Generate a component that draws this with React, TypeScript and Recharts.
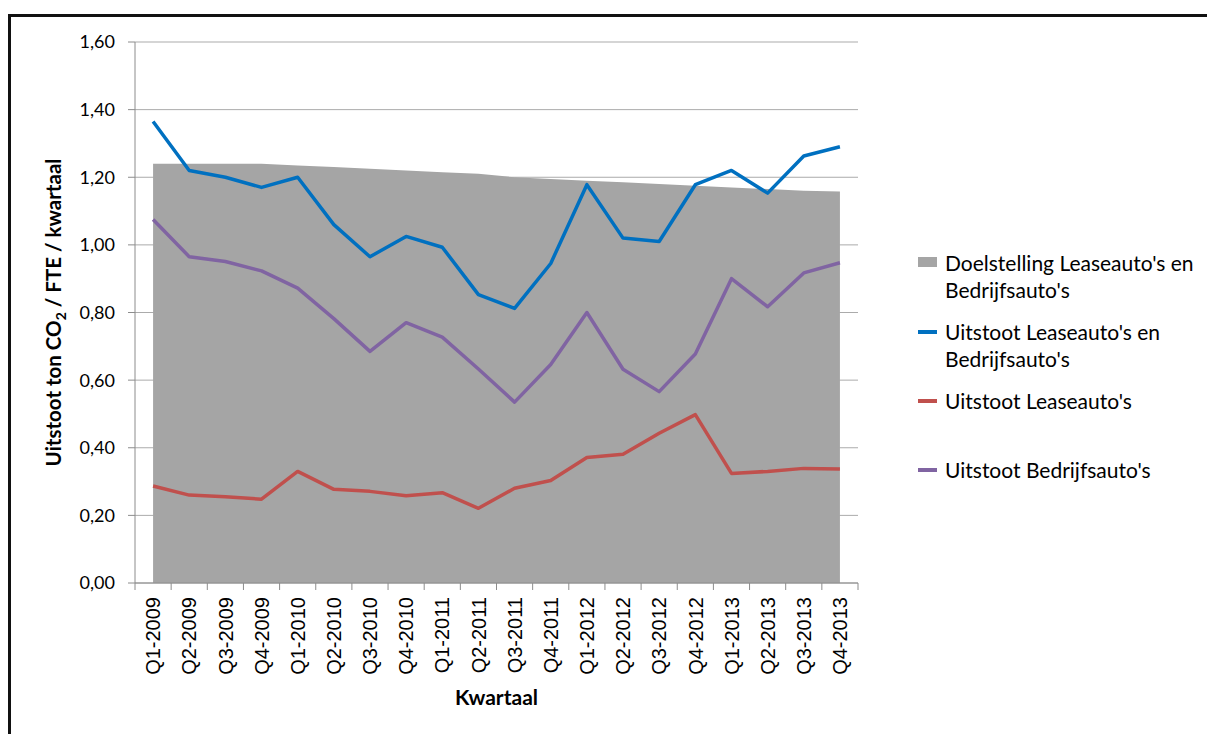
import { ComposedChart, Area, Line, XAxis, YAxis, CartesianGrid } from "recharts";

const kwartalen = [
  "Q1-2009", "Q2-2009", "Q3-2009", "Q4-2009",
  "Q1-2010", "Q2-2010", "Q3-2010", "Q4-2010",
  "Q1-2011", "Q2-2011", "Q3-2011", "Q4-2011",
  "Q1-2012", "Q2-2012", "Q3-2012", "Q4-2012",
  "Q1-2013", "Q2-2013", "Q3-2013", "Q4-2013",
];

// doelstelling lease- en bedrijfsauto's
const doelstelling = [
  1.24, 1.24, 1.24, 1.24, 1.235, 1.23, 1.225, 1.22, 1.215, 1.21,
  1.2, 1.195, 1.19, 1.185, 1.18, 1.175, 1.17, 1.165, 1.16, 1.158,
];

const uitstootTotaal = [
  1.365, 1.22, 1.2, 1.17, 1.2, 1.06, 0.965, 1.025, 0.993, 0.853,
  0.812, 0.945, 1.178, 1.02, 1.01, 1.178, 1.22, 1.153, 1.263, 1.29,
];

const uitstootLease = [
  0.287, 0.26, 0.255, 0.248, 0.33, 0.277, 0.271, 0.258, 0.267, 0.221,
  0.28, 0.303, 0.371, 0.381, 0.443, 0.498, 0.324, 0.33, 0.339, 0.337,
];

const uitstootBedrijf = [
  1.075, 0.965, 0.951, 0.923, 0.872, 0.782, 0.685, 0.77, 0.727, 0.633,
  0.535, 0.646, 0.8, 0.632, 0.566, 0.677, 0.9, 0.817, 0.917, 0.947,
];

const yTicks = [0, 0.2, 0.4, 0.6, 0.8, 1.0, 1.2, 1.4, 1.6];

const legendItems = [
  { lines: ["Doelstelling Leaseauto's en", "Bedrijfsauto's"], color: "#A5A5A5", type: "rect" },
  { lines: ["Uitstoot Leaseauto's en", "Bedrijfsauto's"], color: "#0070C0", type: "line" },
  { lines: ["Uitstoot Leaseauto's"], color: "#C0504D", type: "line" },
  { lines: ["Uitstoot Bedrijfsauto's"], color: "#8064A2", type: "line" },
];

const data = kwartalen.map((k, i) => ({
  kwartaal: k,
  doel: doelstelling[i],
  totaal: uitstootTotaal[i],
  lease: uitstootLease[i],
  bedrijf: uitstootBedrijf[i],
}));

const FONT = "Lato, 'Open Sans', sans-serif";
const AXIS = "#8C8C8C";
const GRID = "#ABABAB";
const HALF_STEP = 723 / kwartalen.length / 2;

function fmt(v: number) {
  return v.toFixed(2).replace(".", ",");
}

function KwartaalTick({ x, y, payload, index }: any) {
  const last = index === kwartalen.length - 1;
  return (
    <g>
      <line x1={x - HALF_STEP} x2={x - HALF_STEP} y1={y} y2={y + 7} stroke={AXIS} />
      {last && <line x1={x + HALF_STEP} x2={x + HALF_STEP} y1={y} y2={y + 7} stroke={AXIS} />}
      <text
        transform={`translate(${x},${y + 14}) rotate(-90)`}
        textAnchor="end"
        dy="0.36em"
        style={{ fontFamily: "Liberation Sans", fontSize: 20, fill: "#000" }}
      >
        {payload.value}
      </text>
    </g>
  );
}

function YTitle({ viewBox }: any) {
  const cx = viewBox.x + 46;
  const cy = viewBox.y + viewBox.height / 2;
  return (
    <text
      transform={`translate(${cx},${cy}) rotate(-90)`}
      textAnchor="middle"
      dy="0.35em"
      style={{ fontFamily: FONT, fontSize: 20.5, fontWeight: "bold", fill: "#000" }}
    >
      Uitstoot ton CO
      <tspan style={{ fontSize: 14 }} dy={5}>2</tspan>
      <tspan dy={-5}> / FTE / kwartaal</tspan>
    </text>
  );
}

function LegendBox() {
  return (
    <div style={{ position: "absolute", left: 918, top: 249, fontFamily: FONT, fontSize: 21, color: "#000" }}>
      {legendItems.map((item) => (
        <div key={item.lines[0]} style={{ position: "relative", height: 69 }}>
          {item.type === "rect" ? (
            <div style={{ position: "absolute", left: 0, top: 8, width: 19, height: 10, background: item.color }} />
          ) : (
            <div style={{ position: "absolute", left: 0, top: 12, width: 19, height: 3.5, background: item.color }} />
          )}
          <div style={{ position: "absolute", left: 27, top: 0, lineHeight: "27px", whiteSpace: "nowrap" }}>
            {item.lines.map((l) => (
              <div key={l}>{l}</div>
            ))}
          </div>
        </div>
      ))}
    </div>
  );
}

export default function App() {
  return (
    <div style={{ position: "relative", width: 1207, height: 734, overflow: "hidden", background: "#fff" }}>
      <style>{"body{margin:0;overflow:hidden}"}</style>
      <div
        style={{
          position: "absolute",
          left: 8,
          top: 14,
          width: 1300,
          height: 900,
          borderTop: "3px solid #111",
          borderLeft: "3px solid #111",
        }}
      />
      <div style={{ position: "absolute", left: 8, top: 8 }}>
        <ComposedChart
          width={1199}
          height={726}
          data={data}
          margin={{ top: 34, right: 349, left: 0, bottom: 41 }}
        >
          <CartesianGrid vertical={false} stroke={GRID} />
          <XAxis
            dataKey="kwartaal"
            interval={0}
            height={110}
            padding={{ left: HALF_STEP, right: HALF_STEP }}
            axisLine={{ stroke: AXIS }}
            tickLine={false}
            tickSize={0}
            tickMargin={0}
            tick={<KwartaalTick />}
            label={{
              value: "Kwartaal",
              position: "insideBottom",
              offset: -12,
              style: { fontFamily: FONT, fontSize: 21, fontWeight: "bold", fill: "#000" },
            }}
          />
          <YAxis
            width={127}
            domain={[0, 1.6]}
            ticks={yTicks}
            interval={0}
            tickFormatter={fmt}
            axisLine={{ stroke: AXIS }}
            tickLine={{ stroke: AXIS }}
            tickSize={7}
            tickMargin={13}
            tick={{ fontFamily: FONT, fontSize: 18, fill: "#000" }}
            label={<YTitle />}
          />
          <Area
            type="linear"
            dataKey="doel"
            fill="#A5A5A5"
            fillOpacity={1}
            stroke="none"
            isAnimationActive={false}
          />
          <Line type="linear" dataKey="totaal" stroke="#0070C0" strokeWidth={3.5} dot={false} isAnimationActive={false} strokeLinejoin="round" />
          <Line type="linear" dataKey="lease" stroke="#C0504D" strokeWidth={3.5} dot={false} isAnimationActive={false} strokeLinejoin="round" />
          <Line type="linear" dataKey="bedrijf" stroke="#8064A2" strokeWidth={3.5} dot={false} isAnimationActive={false} strokeLinejoin="round" />
        </ComposedChart>
      </div>
      <LegendBox />
    </div>
  );
}
